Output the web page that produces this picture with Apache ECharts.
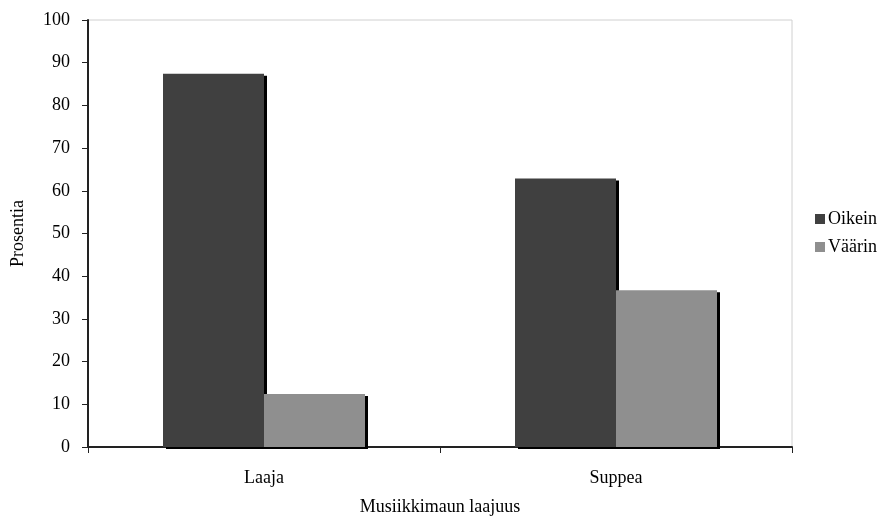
<!DOCTYPE html>
<html>
<head>
<meta charset="utf-8">
<script src="https://cdn.jsdelivr.net/npm/echarts@6/dist/echarts.min.js"></script>
<style>
  html, body { margin: 0; padding: 0; background: #fff; }
  #chart { width: 880px; height: 518px; }
</style>
</head>
<body>
<div id="chart"></div>
<script>
// Share of correct / incorrect answers by breadth of musical taste
const categories = ['Laaja', 'Suppea'];
const oikein = [87.4, 62.9];
const vaarin = [12.4, 36.7];
const yTicks = { min: 0, max: 100, interval: 10 };

const font = '"Liberation Serif", "Times New Roman", serif';
const chart = echarts.init(document.getElementById('chart'));

const barShadow = {
  shadowColor: '#000',
  shadowBlur: 0,
  shadowOffsetX: 3,
  shadowOffsetY: 2
};

chart.setOption({
  animation: false,
  textStyle: { fontFamily: font },
  grid: {
    left: 88, right: 88, top: 20, bottom: 71,
    containLabel: false,
    outerBoundsMode: 'none',
    show: true, borderColor: '#d0d0d0', borderWidth: 1
  },
  legend: {
    orient: 'vertical',
    left: 810, top: 205,
    itemWidth: 10, itemHeight: 10, itemGap: 10,
    icon: 'rect',
    textStyle: { fontFamily: font, fontSize: 18, color: '#000', padding: [0, 0, 0, -2] },
    data: ['Oikein', 'Väärin']
  },
  xAxis: {
    type: 'category',
    data: categories,
    name: 'Musiikkimaun laajuus',
    nameLocation: 'middle',
    nameGap: 51,
    nameTextStyle: { fontFamily: font, fontSize: 18, color: '#000' },
    axisLine: { lineStyle: { color: '#222', width: 2 } },
    axisTick: { show: true, length: 6, lineStyle: { color: '#222' } },
    axisLabel: { fontFamily: font, fontSize: 18, color: '#000', margin: 22 },
    splitLine: { show: false }
  },
  yAxis: {
    type: 'value',
    min: yTicks.min, max: yTicks.max, interval: yTicks.interval,
    name: 'Prosentia',
    nameLocation: 'middle',
    nameGap: 61,
    nameTextStyle: { fontFamily: font, fontSize: 18, color: '#000' },
    axisLine: { show: true, lineStyle: { color: '#222', width: 2 } },
    axisTick: { show: true, length: 6, lineStyle: { color: '#222' } },
    axisLabel: { fontFamily: font, fontSize: 18, color: '#000', margin: 18 },
    splitLine: { show: false }
  },
  series: [
    {
      name: 'Oikein', type: 'bar', data: oikein,
      barWidth: 101, barGap: '0%',
      itemStyle: Object.assign({ color: '#404040' }, barShadow)
    },
    {
      name: 'Väärin', type: 'bar', data: vaarin,
      barWidth: 101,
      itemStyle: Object.assign({ color: '#8f8f8f' }, barShadow)
    }
  ]
});
</script>
</body>
</html>
